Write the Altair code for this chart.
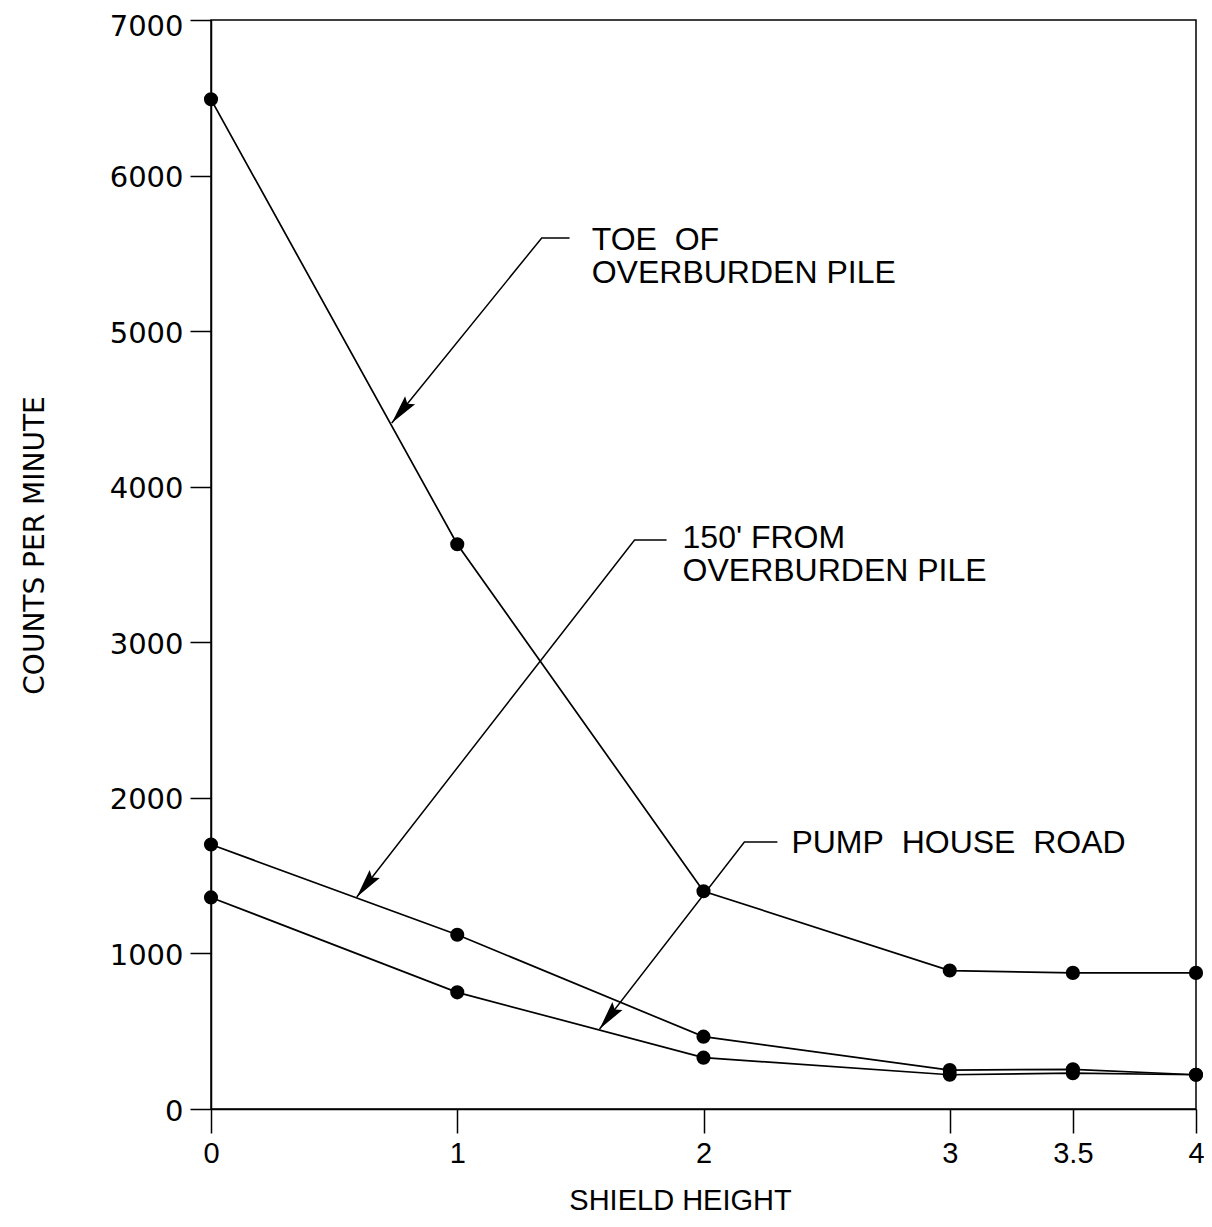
import math
import altair as alt
import pandas as pd

# ---- data ----
shield_height = [0, 1, 2, 3, 3.5, 4]
toe_of_pile = [6490, 3630, 1400, 890, 875, 875]
from_150ft = [1700, 1120, 465, 250, 255, 220]
pump_house_road = [1360, 750, 330, 220, 230, 220]

x_ticks = [0, 1, 2, 3, 3.5, 4]
y_ticks = [0, 1000, 2000, 3000, 4000, 5000, 6000, 7000]

# annotations: label text, text anchor (x, y), leader: arrow tip, elbow, end of horizontal stub
NB = "\u00a0"
ann_labels = ["TOE" + NB + NB + "OF\nOVERBURDEN" + NB + "PILE",
              "150'" + NB + "FROM\nOVERBURDEN" + NB + "PILE",
              "PUMP" + NB + NB + "HOUSE" + NB + NB + "ROAD"]
ann_text_x = [1.546, 1.915, 2.357]
ann_text_y = [5522, 3606, 1646]
ann_tip_x = [0.734, 0.592, 1.578]
ann_tip_y = [4410, 1363, 514]
ann_elbow_x = [1.343, 1.720, 2.166]
ann_elbow_y = [5599, 3658, 1716]
ann_end_x = [1.456, 1.850, 2.300]

W, H = 985, 1089
XMAX, YMAX = 4, 7000
PX = W / XMAX
PY = H / YMAX

rows = []
for name, vals in [("toe", toe_of_pile), ("150", from_150ft), ("pump", pump_house_road)]:
    for xv, yv in zip(shield_height, vals):
        rows.append({"series": name, "x": xv, "y": yv})
df = pd.DataFrame(rows)

lead = []
heads = []
texts = []
for i in range(len(ann_labels)):
    lead.append({"a": i, "o": 0, "x": ann_tip_x[i], "y": ann_tip_y[i]})
    lead.append({"a": i, "o": 1, "x": ann_elbow_x[i], "y": ann_elbow_y[i]})
    lead.append({"a": i, "o": 2, "x": ann_end_x[i], "y": ann_elbow_y[i]})
    dx = (ann_tip_x[i] - ann_elbow_x[i]) * PX
    dy = -(ann_tip_y[i] - ann_elbow_y[i]) * PY
    ang = math.degrees(math.atan2(dx, -dy)) % 360
    heads.append({"x": ann_tip_x[i], "y": ann_tip_y[i], "ang": ang})
    texts.append({"x": ann_text_x[i], "y": ann_text_y[i], "t": ann_labels[i]})
lead_df = pd.DataFrame(lead)
head_df = pd.DataFrame(heads)
text_df = pd.DataFrame(texts)

xs = alt.Scale(domain=[0, XMAX], nice=False, zero=False)
ys = alt.Scale(domain=[0, YMAX], nice=False)

xaxis = alt.Axis(values=x_ticks, title="SHIELD HEIGHT", grid=False,
                 domainColor="black", domainWidth=1.5, tickColor="black", tickWidth=1.5,
                 tickSize=24, labelPadding=6, labelFont="Liberation Sans",
                 labelFontSize=29, labelColor="black", labelFlush=False, labelBaseline="top",
                 titleFont="Liberation Sans", titleFontSize=29,
                 titleFontWeight="normal", titleColor="black", titleX=469, titleY=100,
                 titleBaseline="alphabetic", titleAlign="center", format="~g")
yaxis = alt.Axis(values=y_ticks, title="COUNTS PER MINUTE", grid=False,
                 domainColor="black", domainWidth=1.5, tickColor="black", tickWidth=1.5,
                 tickSize=21, labelPadding=7, labelFont="DejaVu Sans", labelFontSize=29,
                 labelColor="black", labelFlush=False, labelBaseline="middle", format="d",
                 labelOffset=alt.ExprRef(expr="datum.value === 7000 ? 6 : 2"),
                 titleFont="DejaVu Sans", titleFontSize=28, titleFontWeight="normal",
                 titleColor="black", titleX=-176, titleY=525, titleAngle=270,
                 titleAlign="center", titleBaseline="middle")

base = alt.Chart(df)
lines = base.mark_line(color="black", strokeWidth=1.7).encode(
    x=alt.X("x:Q", scale=xs, axis=xaxis),
    y=alt.Y("y:Q", scale=ys, axis=yaxis),
    detail="series:N",
)
points = base.mark_point(filled=True, color="black", size=200, opacity=1).encode(
    x=alt.X("x:Q", scale=xs), y=alt.Y("y:Q", scale=ys)
)
leaders = alt.Chart(lead_df).mark_line(color="black", strokeWidth=1.5).encode(
    x=alt.X("x:Q", scale=xs), y=alt.Y("y:Q", scale=ys), detail="a:N", order="o:Q"
)
arrowheads = alt.Chart(head_df).mark_point(
    shape="M0,0 L0.22,1 L0,0.85 L-0.22,1 Z", filled=True, color="black", opacity=1, size=3400
).encode(
    x=alt.X("x:Q", scale=xs), y=alt.Y("y:Q", scale=ys), angle=alt.Angle("ang:Q", scale=None)
)
labels = alt.Chart(text_df).mark_text(
    align="left", baseline="alphabetic", font="Liberation Sans", fontSize=32,
    lineBreak="\n", lineHeight=33, color="black"
).encode(x=alt.X("x:Q", scale=xs), y=alt.Y("y:Q", scale=ys), text="t:N")

chart = alt.layer(lines, points, leaders, arrowheads, labels).properties(
    width=W, height=H,
    background="white",
    autosize=alt.AutoSizeParams(type="none"),
    padding={"left": 203, "top": 12, "right": 8, "bottom": 110},
).configure_view(stroke="black", strokeWidth=1.5)

chart.save("out.html", embed_options={"renderer": "svg", "actions": False})
